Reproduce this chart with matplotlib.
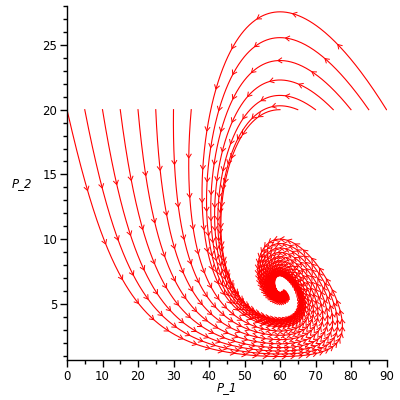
import numpy as np
import matplotlib
matplotlib.use("Agg")
import matplotlib.pyplot as plt
from matplotlib.collections import LineCollection

# phase portrait P_1 / P_2, parameters
# dP1/dt = supply - eat*P1*P2 - loss*P1
# dP2/dt = P2*((P1/p1_eq)**power - 1)
supply = 16.7
eat = 0.02177
loss = 0.1433
p1_eq = 60.0
power = 1.42

# starting points of the drawn trajectories
start_p1 = [0, 5, 10, 15, 20, 25, 30, 35, 60, 65, 70, 75, 80, 85, 90]
start_p2 = [20] * len(start_p1)

t_end = 25.0
dt = 0.01
arrow_every = 0.38

x_ticks = [0, 10, 20, 30, 40, 50, 60, 70, 80, 90]
y_ticks = [5, 10, 15, 20, 25]


def rhs(p):
    x, y = p
    xs = np.clip(x, 0, None)
    return np.array([supply - eat * x * y - loss * x,
                     y * ((xs / p1_eq) ** power - 1)])


# RK4 for all starting points at once
p = np.array([start_p1, start_p2], dtype=float)
n_steps = int(round(t_end / dt))
traj = [p.copy()]
for i in range(n_steps):
    k1 = rhs(p)
    k2 = rhs(p + 0.5 * dt * k1)
    k3 = rhs(p + 0.5 * dt * k2)
    k4 = rhs(p + dt * k3)
    p = p + dt / 6.0 * (k1 + 2 * k2 + 2 * k3 + k4)
    traj.append(p.copy())
traj = np.array(traj)  # (steps, 2, n)

fig = plt.figure(figsize=(4, 4), dpi=100)
L, R, B, T = 67 / 400, 386.5 / 400, 40 / 400, 394 / 400
ax = fig.add_axes([L, B, R - L, T - B])
ax.set_xlim(0, 90)
ax.set_ylim(0.68, 28.0)

red = "#ff0000"
for j in range(traj.shape[2]):
    ax.plot(traj[:, 0, j], traj[:, 1, j], color=red, lw=0.8)

# arrow heads along the curves, evenly spaced in time
sx = (R - L) * 400 / 90.0
sy = (T - B) * 400 / (28.0 - 0.68)
k = int(round(arrow_every / dt))
head = 5.0
ang = np.radians(32)
segs = []
for idx in range(k, n_steps, k):
    pts = traj[idx]
    d = rhs(pts)
    ux, uy = d[0] * sx, d[1] * sy
    norm = np.hypot(ux, uy)
    for j in range(pts.shape[1]):
        if norm[j] < 1e-6:
            continue
        bx, by = -ux[j] / norm[j], -uy[j] / norm[j]
        for a in (ang, -ang):
            rx = bx * np.cos(a) - by * np.sin(a)
            ry = bx * np.sin(a) + by * np.cos(a)
            x0, y0 = pts[0, j], pts[1, j]
            segs.append([(x0, y0), (x0 + head * rx / sx, y0 + head * ry / sy)])
ax.add_collection(LineCollection(segs, colors=red, linewidths=0.7))

for s in ("top", "right"):
    ax.spines[s].set_visible(False)
for s in ("left", "bottom"):
    ax.spines[s].set_linewidth(1.0)
ax.set_xticks(x_ticks)
ax.set_xticks(np.arange(5, 90, 10), minor=True)
ax.set_yticks(y_ticks)
ax.set_yticks([v for v in range(1, 29) if v % 5], minor=True)
ax.tick_params(which="major", direction="out", length=5, width=1, labelsize=8.5, pad=2)
ax.tick_params(which="minor", direction="out", length=3, width=1)

ax.text(0.5, (360 - 388) / 354, "P_1", transform=ax.transAxes, ha="center",
        va="center", fontsize=8.5, style="italic")
ax.text((22 - 67) / 319.5, (360 - 184) / 354, "P_2", transform=ax.transAxes,
        ha="center", va="center", fontsize=8.5, style="italic")

fig.savefig("out.png", dpi=100)
